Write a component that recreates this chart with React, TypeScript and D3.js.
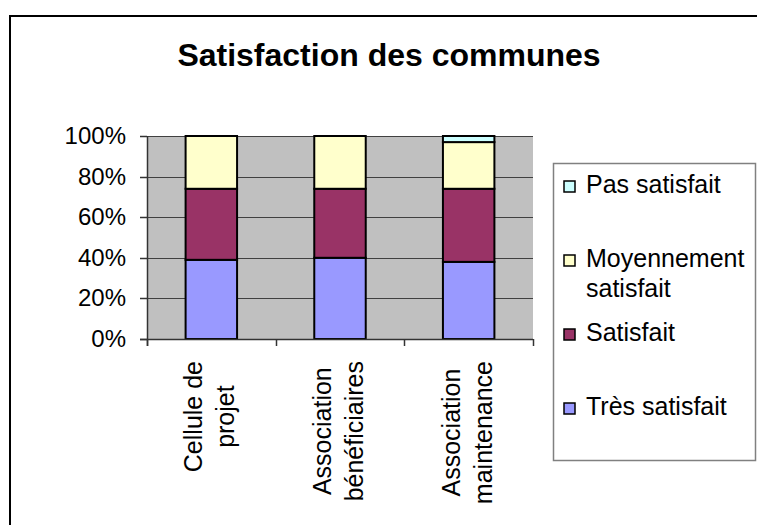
import React, { useEffect, useRef } from "react";
import * as d3 from "d3";

const categories = ["Cellule de projet", "Association bénéficiaires", "Association maintenance"];
const categoryLines = [["Cellule de", "projet"], ["Association", "bénéficiaires"], ["Association", "maintenance"]];
const seriesNames = ["Très satisfait", "Satisfait", "Moyennement satisfait", "Pas satisfait"];
const tresSatisfait = [39, 40, 38];
const satisfait = [35, 34, 36];
const moyennement = [26, 26, 23];
const pasSatisfait = [0, 0, 3];
const yTicks = [0, 20, 40, 60, 80, 100];
const legendOrder = ["Pas satisfait", "Moyennement satisfait", "Satisfait", "Très satisfait"];
const legendLines: Record<string, string[]> = {
  "Pas satisfait": ["Pas satisfait"],
  "Moyennement satisfait": ["Moyennement", "satisfait"],
  "Satisfait": ["Satisfait"],
  "Très satisfait": ["Très satisfait"],
};
const colors: Record<string, string> = {
  "Très satisfait": "#9999FF",
  "Satisfait": "#993366",
  "Moyennement satisfait": "#FFFFCC",
  "Pas satisfait": "#CCFFFF",
};

const FONT = "Arial, 'Liberation Sans', sans-serif";

export default function App() {
  const ref = useRef<SVGSVGElement>(null);

  useEffect(() => {
    const svg = d3.select(ref.current);
    svg.selectAll("*").remove();

    const W = 757, H = 525;
    svg.append("rect").attr("width", W).attr("height", H).attr("fill", "#fff");
    // outer chart border
    svg.append("rect").attr("x", 10).attr("y", 16).attr("width", 900).attr("height", 700)
      .attr("fill", "none").attr("stroke", "#000").attr("stroke-width", 2);

    // title
    svg.append("text").attr("x", 389).attr("y", 66).attr("text-anchor", "middle")
      .attr("font-family", FONT).attr("font-weight", "bold").attr("font-size", 32)
      .text("Satisfaction des communes");

    const left = 147, right = 533, top = 136, bottom = 339;
    const x = d3.scaleBand<string>().domain(categories).range([left, right]).paddingInner(0.6).paddingOuter(0.3);
    const y = d3.scaleLinear().domain([0, 100]).range([bottom, top]);

    const g = svg.append("g");
    g.append("rect").attr("x", left).attr("y", top).attr("width", right - left).attr("height", bottom - top)
      .attr("fill", "#C0C0C0");

    // gridlines
    g.selectAll(".grid").data(yTicks.filter(t => t > 0)).join("line")
      .attr("x1", left).attr("x2", right)
      .attr("y1", d => Math.round(y(d)) + 0.5).attr("y2", d => Math.round(y(d)) + 0.5)
      .attr("stroke", "#404040").attr("stroke-width", 1);

    // stacked bars
    const table = categories.map((c, i) => ({
      cat: c,
      "Très satisfait": tresSatisfait[i],
      "Satisfait": satisfait[i],
      "Moyennement satisfait": moyennement[i],
      "Pas satisfait": pasSatisfait[i],
    }));
    const stack = d3.stack<any>().keys(seriesNames)(table);
    stack.forEach(layer => {
      g.selectAll(null).data(layer.filter(d => d[1] - d[0] > 0)).join("rect")
        .attr("x", d => x(d.data.cat)!)
        .attr("width", x.bandwidth())
        .attr("y", d => y(d[1]))
        .attr("height", d => y(d[0]) - y(d[1]))
        .attr("fill", colors[layer.key])
        .attr("stroke", "#000").attr("stroke-width", 2);
    });

    // axes
    g.append("line").attr("x1", left + 0.5).attr("x2", left + 0.5).attr("y1", top).attr("y2", bottom + 7)
      .attr("stroke", "#333").attr("stroke-width", 1.5);
    g.append("line").attr("x1", left - 7).attr("x2", right).attr("y1", bottom + 0.5).attr("y2", bottom + 0.5)
      .attr("stroke", "#333").attr("stroke-width", 1.5);
    g.selectAll(".yt").data(yTicks).join("line")
      .attr("x1", left - 7).attr("x2", left)
      .attr("y1", d => Math.round(y(d)) + 0.5).attr("y2", d => Math.round(y(d)) + 0.5)
      .attr("stroke", "#333").attr("stroke-width", 1.5);
    const boundaries = categories.map(c => x(c)! - x.step() * 0.3).concat([right]);
    g.selectAll(".xt").data(boundaries).join("line")
      .attr("x1", d => Math.round(d) + 0.5).attr("x2", d => Math.round(d) + 0.5)
      .attr("y1", bottom).attr("y2", bottom + 7)
      .attr("stroke", "#333").attr("stroke-width", 1.5);

    g.selectAll(".yl").data(yTicks).join("text")
      .attr("x", 126).attr("y", d => y(d) + 8)
      .attr("text-anchor", "end").attr("font-family", FONT).attr("font-size", 24)
      .text(d => `${d}%`);

    // x labels, rotated
    const labelTop = 361;
    categories.forEach((c, i) => {
      const cx = x(c)! + x.bandwidth() / 2;
      const grp = g.append("g");
      const texts = categoryLines[i].map((line) =>
        grp.append("text").attr("font-family", FONT).attr("font-size", 25)
          .attr("text-anchor", "middle").text(line));
      const widths = texts.map(t => (t.node() as SVGTextElement).getComputedTextLength());
      const maxW = Math.max(...widths);
      const cy = labelTop + maxW / 2;
      const offsets = [-9, 23];
      texts.forEach((t, j) => t.attr("transform", `translate(${cx},${cy}) rotate(-90)`).attr("y", offsets[j]));
    });

    // legend
    const lg = svg.append("g");
    lg.append("rect").attr("x", 553.5).attr("y", 163.5).attr("width", 202).attr("height", 297)
      .attr("fill", "#fff").attr("stroke", "#808080").attr("stroke-width", 1.5);
    const baselines = [193, 267, 341, 415];
    legendOrder.forEach((name, i) => {
      const b = baselines[i];
      lg.append("rect").attr("x", 564).attr("y", b - 12).attr("width", 11).attr("height", 11)
        .attr("fill", colors[name]).attr("stroke", "#000").attr("stroke-width", 1.5);
      legendLines[name].forEach((line, j) => {
        lg.append("text").attr("x", 586).attr("y", b + j * 30)
          .attr("font-family", FONT).attr("font-size", 25).text(line);
      });
    });
  }, []);

  return (
    <svg ref={ref} width={757} height={525} style={{ position: "absolute", left: 0, top: 0 }} />
  );
}
